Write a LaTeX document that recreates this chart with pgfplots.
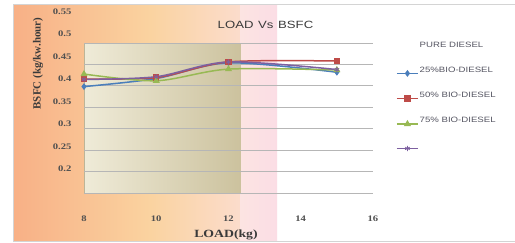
\documentclass[border=0pt]{standalone}
\usepackage{pgfplots}
\pgfplotsset{compat=1.18}
\usepackage{fontspec}
\setmainfont{Liberation Serif}
\newfontfamily\serifst[FakeStretch=1.25]{Liberation Serif}
\newfontfamily\sansst[FakeStretch=1.25]{Liberation Sans}
\definecolor{o1}{HTML}{F8B086}
\definecolor{o2}{HTML}{FAD3A0}
\definecolor{o3}{HTML}{FBDCCC}
\definecolor{p1}{HTML}{FCE4E2}
\definecolor{p2}{HTML}{FBDDE5}
\definecolor{c1}{HTML}{EFEBD8}
\definecolor{c2}{HTML}{CCC29E}
\definecolor{framegray}{HTML}{D4D4D4}
\definecolor{gridgray}{HTML}{B6B6B6}
\definecolor{tickgray}{HTML}{505050}
\definecolor{titlegray}{HTML}{3A3A3A}
\definecolor{leggray}{HTML}{555562}
\definecolor{sblue}{HTML}{4A7EBB}
\definecolor{sred}{HTML}{BE4B48}
\definecolor{sgreen}{HTML}{98B954}
\definecolor{spurple}{HTML}{7D60A0}
\begin{document}
\begin{tikzpicture}
\useasboundingbox (0pt,0pt) rectangle (515pt,-242pt);
\fill[white] (0pt,0pt) rectangle (515pt,-242pt);
% outer background
\fill[left color=o1,right color=o2] (13pt,-4pt) rectangle (150.5pt,-241pt);
\fill[left color=o2,right color=o3] (150pt,-4pt) rectangle (241pt,-241pt);
\fill[left color=p1,right color=p2] (240.7pt,-4pt) rectangle (277pt,-241pt);
% plot area background
\fill[left color=c1,right color=c2] (84pt,-43pt) rectangle (240.7pt,-193pt);
\draw[framegray, line width=0.8pt] (520pt,-4.4pt) -- (13.4pt,-4.4pt) -- (13.4pt,-241.4pt) -- (520pt,-241.4pt);
\draw[c2!80!gray, line width=0.5pt] (84pt,-43pt) -- (84pt,-193pt);
\begin{axis}[
  at={(84pt,-193pt)}, anchor=south west,
  scale only axis, width=289pt, height=185.8pt,
  xmin=8, xmax=16, ymin=0.1458, ymax=0.56,
  clip=false,
  axis line style={draw=none},
  tick style={draw=none},
  major tick length=0pt,
  xtick={8,10,12,14,16},
  ytick={0.2,0.25,0.3,0.35,0.4,0.45,0.5,0.55},
  yticklabels={0.2,0.25,0.3,0.35,0.4,0.45,0.5,0.55},
  extra y ticks={0.1458,0.19357,0.24134,0.28911,0.33689,0.38466,0.43243,0.4802},
  extra y tick labels={},
  extra y tick style={grid=major, major grid style={gridgray, line width=0.9pt}},
  /pgf/number format/assume math mode=true,
  xticklabel style={font=\serifst\bfseries\fontsize{8.5}{10}\selectfont, text=tickgray, yshift=-19.8pt},
  yticklabel style={font=\serifst\bfseries\fontsize{8.5}{10}\selectfont, text=tickgray, xshift=-9pt},
  legend style={at={(1.0796,0.8194)}, anchor=north west, draw=none, fill=none,
    inner sep=0pt, row sep=14.9pt,
    font=\sansst\fontsize{7.7}{9}\selectfont, text=leggray,
    nodes={inner sep=1pt, text height=6pt, text depth=1.5pt}},
  legend cell align=left,
  legend image code/.code={\draw[mark repeat=2,mark phase=2,#1] plot coordinates {(0pt,-3.3pt) (10.5pt,-3.3pt) (21pt,-3.3pt)};},
  every axis plot/.append style={line width=1.5pt, smooth},
]
\addlegendimage{empty legend}
\addlegendentry{PURE DIESEL}
\addplot[sblue, mark=diamond*, mark size=2.2pt, mark options={solid}] coordinates {(8,0.383) (10,0.401) (12,0.436) (15,0.415)};
\addlegendentry{25\%BIO-DIESEL}
\addplot[sred, mark=square*, mark size=2.5pt] coordinates {(8,0.400) (10,0.403) (12,0.438) (15,0.440)};
\addlegendentry{50\% BIO-DIESEL}
\addplot[sgreen, mark=triangle*, mark size=2.6pt] coordinates {(8,0.411) (10,0.396) (12,0.422) (15,0.420)};
\addlegendentry{75\% BIO-DIESEL}
\addplot[spurple, mark=asterisk, mark size=2.6pt, mark options={line width=0.8pt}] coordinates {(8,0.399) (10,0.405) (12,0.438) (15,0.421)};
\addlegendentry{\phantom{X}}
\end{axis}
\node[font=\sansst\fontsize{10.5}{12}\selectfont, text=titlegray] at (265.5pt,-25pt) {LOAD\hspace{0.45em}Vs\hspace{0.45em}BSFC};
\node[font=\bfseries\fontsize{11}{13}\selectfont, text=titlegray, rotate=90] at (38pt,-63.5pt) {BSFC (kg/kw.hour)};
\node[font=\serifst\bfseries\fontsize{11}{13}\selectfont, text=titlegray] at (226pt,-235pt) {LOAD(kg)};
\end{tikzpicture}
\end{document}
